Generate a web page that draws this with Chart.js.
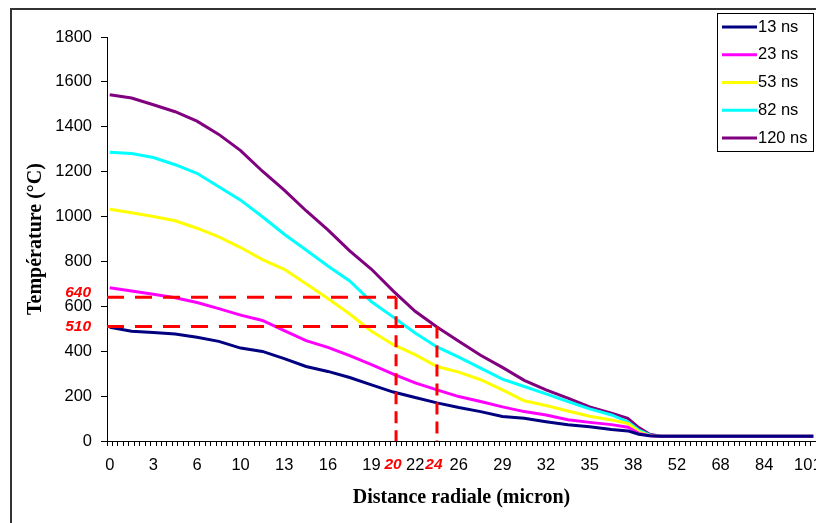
<!DOCTYPE html>
<html>
<head>
<meta charset="utf-8">
<script src="https://cdn.jsdelivr.net/npm/chart.js@4/dist/chart.umd.min.js"></script>
<style>
  html, body { margin: 0; padding: 0; background: #fff; overflow: hidden; }
  #chart { display: block; }
</style>
</head>
<body>
<canvas id="chart" width="816" height="523"></canvas>
<script>
// x tick labels (radial distance, micron), one every 8 categories
const tickLabels = ['0', '3', '6', '10', '13', '16', '19', '22', '26', '29', '32', '35', '38', '52', '68', '84', '101'];
const categoryCount = 130;
const labelEvery = 8;

// category positions where the curves were read
const sampleCats = [0, 4, 8, 12, 16, 20, 24, 28, 32, 36, 40, 44, 48, 52, 56, 60, 64, 68, 72, 76, 80, 84, 88, 92, 95, 97, 99, 101, 129];

const t13  = [507, 489, 483, 477, 462, 444, 414, 399, 367, 332, 310, 283, 250, 218, 194, 170, 149, 131, 109, 101, 86, 72, 63, 51, 45, 30, 23, 21, 21];
const t23  = [683, 668, 654, 638, 617, 590, 561, 537, 492, 447, 417, 380, 340, 298, 259, 228, 198, 176, 152, 131, 116, 95, 83, 73, 61, 34, 23, 21, 21];
const t53  = [1033, 1017, 1000, 981, 948, 909, 862, 808, 765, 701, 635, 566, 489, 429, 385, 332, 307, 273, 228, 179, 158, 134, 110, 94, 78, 42, 24, 21, 21];
const t82  = [1287, 1281, 1263, 1231, 1193, 1133, 1073, 999, 921, 851, 780, 713, 620, 552, 481, 419, 374, 325, 276, 243, 210, 176, 143, 116, 86, 49, 27, 21, 21];
const t120 = [1543, 1528, 1498, 1467, 1425, 1366, 1294, 1202, 1118, 1026, 941, 847, 765, 668, 578, 508, 444, 382, 328, 270, 228, 191, 152, 124, 101, 60, 30, 21, 21];

const seriesNames = ['13 ns', '23 ns', '53 ns', '82 ns', '120 ns'];
const seriesColors = ['#000080', '#ff00ff', '#ffff00', '#00ffff', '#800080'];

// red dashed reading lines
const markerTemps = [640, 510];
const markerCats = [52.5, 60];
const markerRadii = ['20', '24'];

// build the category axis and the full (gappy) series
const labels = [];
for (let i = 0; i < categoryCount; i++) {
    labels.push(i % labelEvery === 0 ? (tickLabels[i / labelEvery] || '') : '');
}
function fullSeries(vals) {
    const out = new Array(categoryCount).fill(null);
    sampleCats.forEach((c, k) => { out[c] = vals[k]; });
    return out;
}

const overlay = {
    id: 'overlay',
    beforeDraw(chart) {
        const ctx = chart.ctx;
        ctx.save();
        ctx.fillStyle = '#fff';
        ctx.fillRect(0, 0, chart.width, chart.height);
        ctx.strokeStyle = '#333';
        ctx.lineWidth = 2;
        ctx.strokeRect(11, 9, chart.width + 20, chart.height + 20);
        ctx.restore();
    },
    afterDatasetsDraw(chart) {
        const ctx = chart.ctx;
        const x = chart.scales.x, y = chart.scales.y;
        ctx.save();
        ctx.strokeStyle = '#ff0000';
        ctx.lineWidth = 3;
        markerTemps.forEach((t, k) => {
            const py = y.getPixelForValue(t);
            const px = x.getPixelForValue(markerCats[k]);
            ctx.setLineDash([17, 11]);
            ctx.beginPath();
            ctx.moveTo(x.left, py);
            ctx.lineTo(px, py);
            ctx.stroke();
            ctx.setLineDash([12, 7]);
            ctx.beginPath();
            ctx.moveTo(px, py);
            ctx.lineTo(px, y.bottom);
            ctx.stroke();
        });
        ctx.setLineDash([]);
        ctx.fillStyle = '#ff0000';
        ctx.font = 'bold italic 15.5px "Liberation Sans"';
        ctx.textBaseline = 'middle';
        ctx.textAlign = 'right';
        markerTemps.forEach((t, k) => {
            ctx.fillText(String(t), x.left - 16, y.getPixelForValue(t) - (k === 0 ? 5 : 0));
        });
        ctx.textAlign = 'center';
        markerRadii.forEach((r, k) => {
            ctx.fillText(r, x.getPixelForValue(markerCats[k]) - 3, y.bottom + 24);
        });
        ctx.restore();
    },
    afterDraw(chart) {
        const ctx = chart.ctx;
        ctx.save();
        ctx.fillStyle = '#fff';
        ctx.fillRect(717, 13, 96, 138);
        ctx.strokeStyle = '#000';
        ctx.lineWidth = 1;
        ctx.strokeRect(717.5, 13.5, 96, 138);
        ctx.font = '16.5px "Liberation Sans"';
        ctx.textBaseline = 'middle';
        ctx.textAlign = 'left';
        chart.data.datasets.forEach((ds, k) => {
            const cy = 27 + k * 27.75;
            ctx.strokeStyle = ds.borderColor;
            ctx.lineWidth = 3;
            ctx.beginPath();
            ctx.moveTo(722, cy);
            ctx.lineTo(757, cy);
            ctx.stroke();
            ctx.fillStyle = '#000';
            ctx.fillText(ds.label, 758, cy);
        });
        ctx.restore();
    }
};

Chart.defaults.font.family = '"Liberation Sans", Arial, sans-serif';
Chart.defaults.font.size = 16.5;
Chart.defaults.color = '#000';

const titleFont = { family: '"Liberation Serif", "Times New Roman", serif', size: 20, weight: 'bold' };

const series = [t13, t23, t53, t82, t120];
new Chart(document.getElementById('chart'), {
    type: 'line',
    data: {
        labels: labels,
        datasets: series.map((vals, k) => ({
            label: seriesNames[k],
            data: fullSeries(vals),
            borderColor: seriesColors[k],
            backgroundColor: seriesColors[k],
            borderWidth: 3,
            pointRadius: 0,
            tension: 0,
            spanGaps: true
        }))
    },
    options: {
        responsive: false,
        animation: false,
        devicePixelRatio: 1,
        layout: { padding: { left: 0, right: 0, top: 37, bottom: 0 } },
        plugins: {
            legend: { display: false },
            tooltip: { enabled: false }
        },
        scales: {
            x: {
                type: 'category',
                offset: true,
                grid: { display: true, drawOnChartArea: false, offset: true, tickLength: 5, color: '#000' },
                border: { display: true, color: '#000', width: 1 },
                ticks: { autoSkip: false, maxRotation: 0, minRotation: 0, padding: 10 },
                title: {
                    display: true,
                    text: 'Distance radiale (micron)',
                    font: titleFont,
                    padding: { top: 0, bottom: 13 }
                },
                afterFit(s) {
                    s.height = 82;
                    s.paddingLeft = 0;
                    s.paddingRight = 0;
                }
            },
            y: {
                min: 0,
                max: 1800,
                ticks: {
                    stepSize: 200,
                    padding: 9,
                    callback: v => String(v)
                },
                grid: { display: true, drawOnChartArea: false, tickLength: 6, color: '#000' },
                border: { display: true, color: '#000', width: 1 },
                title: {
                    display: true,
                    text: 'Température (°C)',
                    font: titleFont,
                    padding: { top: 24, bottom: 0 }
                },
                afterFit(s) { s.width = 107; }
            }
        }
    },
    plugins: [overlay]
});
</script>
</body>
</html>
